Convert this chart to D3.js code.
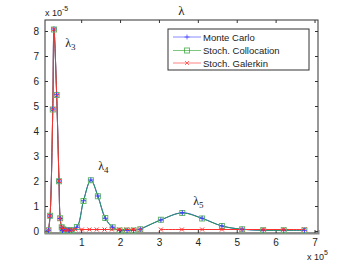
<!DOCTYPE html>
<html>
<head>
<meta charset="utf-8">
<script src="https://cdn.jsdelivr.net/npm/d3@7"></script>
<style>
  body { margin: 0; background: #fff; }
  svg { display: block; }
  text { font-family: "Liberation Sans", Arial, sans-serif; fill: #222; }
  .serif { font-family: "Liberation Serif", "Times New Roman", serif; }
</style>
</head>
<body>
<svg id="chart" width="352" height="264"></svg>
<script>
// data (x in units of 1e5, y in units of 1e-5)
var xTicks = [1, 2, 3, 4, 5, 6, 7];
var yTicks = [0, 1, 2, 3, 4, 5, 6, 7, 8];

// lambda 3
var xLam3 = [0.16, 0.20, 0.27, 0.30, 0.37, 0.43, 0.46, 0.50, 0.54, 0.61, 0.67, 0.76];
var mcLam3 = [0.03, 0.60, 4.88, 8.08, 5.45, 2.00, 0.50, 0.15, 0.07, 0.04, 0.03, 0.03];
var scLam3 = [0.03, 0.61, 4.86, 8.06, 5.44, 1.99, 0.51, 0.15, 0.07, 0.04, 0.03, 0.03];
var sgLam3 = [0.03, 0.60, 4.87, 8.07, 5.43, 2.00, 0.50, 0.16, 0.07, 0.05, 0.04, 0.04];

// lambda 4
var xLam4 = [0.52, 0.70, 0.89, 1.06, 1.25, 1.43, 1.62, 1.81, 1.99, 2.18, 2.35];
var mcLam4 = [0.02, 0.03, 0.15, 1.21, 2.04, 1.40, 0.51, 0.15, 0.02, 0.02, 0.02];
var scLam4 = [0.02, 0.03, 0.16, 1.20, 2.03, 1.39, 0.52, 0.15, 0.02, 0.02, 0.02];
var xLam4Sg = [0.85, 1.02, 1.21, 1.40, 1.60, 1.79, 1.98, 2.16, 2.35, 2.52];
var sgLam4 = [0.06, 0.06, 0.06, 0.06, 0.06, 0.06, 0.06, 0.06, 0.06, 0.06];

// lambda 5
var xLam5 = [2.52, 3.05, 3.60, 4.11, 4.62, 5.14, 5.68, 6.21, 6.74];
var mcLam5 = [0.07, 0.44, 0.73, 0.51, 0.20, 0.07, 0.03, 0.03, 0.03];
var scLam5 = [0.07, 0.45, 0.72, 0.50, 0.20, 0.07, 0.03, 0.03, 0.03];
var xLam5Sg = [3.05, 3.59, 4.11, 4.62, 5.14, 5.68, 6.21, 6.74];
var sgLam5 = [0.06, 0.06, 0.06, 0.06, 0.06, 0.06, 0.06, 0.06];

var seriesNames = ['Monte Carlo', 'Stoch. Collocation', 'Stoch. Galerkin'];
var seriesColors = ['#3a3aff', '#2a9a55', '#ff3030'];
var markerColors = ['#3a3aff', '#66bb66', '#ff3030'];

function zip(xs, ys) {
    return xs.map(function(x, i) { return [x, ys[i]]; });
}

var svg = d3.select('#chart');
var plotLeft = 45, plotRight = 318, plotTop = 20, plotBottom = 233;

var x = d3.scaleLinear().domain([0.07, 7.09]).range([plotLeft, plotRight]);
var y = d3.scaleLinear().domain([-0.08, 8.44]).range([plotBottom, plotTop]);

// box
svg.append('rect')
    .attr('x', plotLeft).attr('y', plotTop)
    .attr('width', plotRight - plotLeft).attr('height', plotBottom - plotTop)
    .attr('fill', '#fff')
    .attr('stroke', '#333')
    .attr('stroke-width', 1);

// axes with inner ticks on all sides
svg.append('g')
    .attr('transform', 'translate(0,' + plotBottom + ')')
    .call(d3.axisBottom(x).tickValues(xTicks).tickSize(-3).tickPadding(6).tickFormat(d3.format('d')))
    .call(function(g) { g.select('.domain').attr('stroke', '#888').attr('stroke-width', 2); });
svg.append('g')
    .attr('transform', 'translate(0,' + plotTop + ')')
    .call(d3.axisTop(x).tickValues(xTicks).tickSize(-3).tickFormat(''))
    .call(function(g) { g.select('.domain').remove(); });
svg.append('g')
    .attr('transform', 'translate(' + plotLeft + ',0)')
    .call(d3.axisLeft(y).tickValues(yTicks).tickSize(-3).tickPadding(6).tickFormat(d3.format('d')))
    .call(function(g) { g.select('.domain').remove(); });
svg.append('g')
    .attr('transform', 'translate(' + plotRight + ',0)')
    .call(d3.axisRight(y).tickValues(yTicks).tickSize(-3).tickFormat(''))
    .call(function(g) { g.select('.domain').remove(); });

svg.selectAll('.tick line').attr('stroke', '#333');
svg.selectAll('.tick text')
    .attr('font-family', '"Liberation Sans", Arial, sans-serif')
    .attr('font-size', 10)
    .attr('fill', '#222');

// exponent labels
var e1 = svg.append('text').attr('x', plotLeft).attr('y', 16).attr('font-size', 9);
e1.append('tspan').text('x 10');
e1.append('tspan').attr('dy', -5).attr('font-size', 7).text('-5');
var e2 = svg.append('text').attr('x', 307).attr('y', 260).attr('font-size', 9);
e2.append('tspan').text('x 10');
e2.append('tspan').attr('dy', -5).attr('font-size', 7).text('5');

// title
svg.append('text')
    .attr('class', 'serif')
    .attr('x', (plotLeft + plotRight) / 2).attr('y', 15)
    .attr('text-anchor', 'middle')
    .attr('font-size', 13)
    .text('λ');

var line = d3.line()
    .x(function(d) { return x(d[0]); })
    .y(function(d) { return y(d[1]); })
    .curve(d3.curveCatmullRom.alpha(0.5));

var plot = svg.append('g');

function drawLine(pts, color) {
    plot.append('path')
        .datum(pts)
        .attr('d', line)
        .attr('fill', 'none')
        .attr('stroke', color)
        .attr('stroke-width', 1);
}

function drawMarkers(g, pts, kind, color) {
    pts.forEach(function(d) {
        var cx = x(d[0]), cy = y(d[1]);
        if (kind === 'plus') {
            g.append('path')
                .attr('d', 'M' + (cx - 2.5) + ',' + cy + 'H' + (cx + 2.5) + 'M' + cx + ',' + (cy - 2.5) + 'V' + (cy + 2.5))
                .attr('stroke', color).attr('stroke-width', 1).attr('fill', 'none');
        } else if (kind === 'square') {
            g.append('rect')
                .attr('x', cx - 2.5).attr('y', cy - 2.5).attr('width', 5).attr('height', 5)
                .attr('stroke', color).attr('stroke-width', 1).attr('fill', 'none');
        } else {
            g.append('path')
                .attr('d', 'M' + (cx - 2) + ',' + (cy - 2) + 'L' + (cx + 2) + ',' + (cy + 2) +
                           'M' + (cx - 2) + ',' + (cy + 2) + 'L' + (cx + 2) + ',' + (cy - 2))
                .attr('stroke', color).attr('stroke-width', 1).attr('fill', 'none');
        }
    });
}

var mc = [zip(xLam3, mcLam3), zip(xLam4, mcLam4), zip(xLam5, mcLam5)];
var sc = [zip(xLam3, scLam3), zip(xLam4, scLam4), zip(xLam5, scLam5)];
var sg = [zip(xLam3, sgLam3), zip(xLam4Sg, sgLam4), zip(xLam5Sg, sgLam5)];

mc.forEach(function(p) { drawLine(p, seriesColors[0]); });
sc.forEach(function(p) { drawLine(p, seriesColors[1]); });
sg.forEach(function(p) { drawLine(p, seriesColors[2]); });

var marks = svg.append('g');
sc.forEach(function(p) { drawMarkers(marks, p, 'square', markerColors[1]); });
mc.forEach(function(p) { drawMarkers(marks, p, 'plus', markerColors[0]); });
sg.forEach(function(p) { drawMarkers(marks, p, 'x', markerColors[2]); });

// annotations
function lamLabel(xv, yv, sub) {
    var t = svg.append('text').attr('class', 'serif')
        .attr('x', x(xv)).attr('y', y(yv)).attr('font-size', 12).attr('fill', '#222');
    t.append('tspan').text('λ');
    t.append('tspan').attr('dy', 3).attr('font-size', 9).text(sub);
}
lamLabel(0.59, 7.36, '3');
lamLabel(1.44, 2.44, '4');
lamLabel(3.88, 1.04, '5');

// legend
var lg = svg.append('g').attr('transform', 'translate(168,29)');
lg.append('rect')
    .attr('width', 141).attr('height', 41)
    .attr('fill', '#fff').attr('stroke', '#333').attr('stroke-width', 1);
var kinds = ['plus', 'square', 'x'];
var legendRows = [8, 21.5, 34];
var legendColors = ['#3a3aff', '#2aa02a', '#ff3030'];
seriesNames.forEach(function(name, i) {
    lg.append('line')
        .attr('x1', 5).attr('x2', 33)
        .attr('y1', legendRows[i]).attr('y2', legendRows[i])
        .attr('stroke', legendColors[i]).attr('stroke-opacity', 0.6).attr('stroke-width', 1);
    lg.append('text')
        .attr('x', 35).attr('y', legendRows[i] + 3.5)
        .attr('font-size', 9.5)
        .text(name);
});
kinds.forEach(function(k, i) {
    var cy = 29 + legendRows[i];
    var g = svg.append('g').attr('opacity', 0.7);
    drawMarkers(g, [[x.invert(187), y.invert(cy)]], k, legendColors[i]);
});
</script>
</body>
</html>
